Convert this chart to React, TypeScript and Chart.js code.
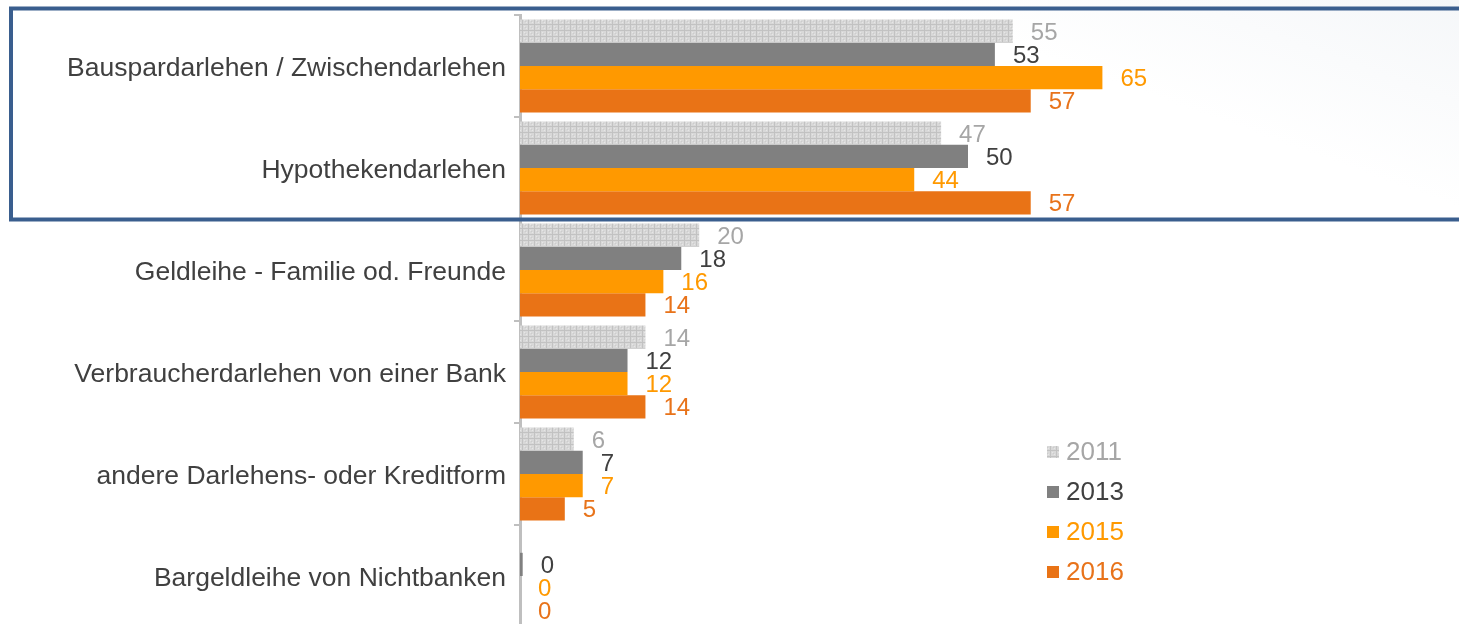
import React, { useEffect, useRef } from "react";
import { Chart, registerables } from "chart.js";

Chart.register(...registerables);

const categories = [
  "Bauspardarlehen / Zwischendarlehen",
  "Hypothekendarlehen",
  "Geldleihe - Familie od. Freunde",
  "Verbraucherdarlehen von einer Bank",
  "andere Darlehens- oder Kreditform",
  "Bargeldleihe von Nichtbanken",
];

const seriesYears = ["2011", "2013", "2015", "2016"];

const values2011: (number | null)[] = [55, 47, 20, 14, 6, null];
const values2013: (number | null)[] = [53, 50, 18, 12, 7, 0.3];
const values2015: (number | null)[] = [65, 44, 16, 12, 7, 0];
const values2016: (number | null)[] = [57, 57, 14, 14, 5, 0];

const barColors = ["pattern", "#808080", "#ff9900", "#e97316"];
const labelColors = ["#a6a6a6", "#404040", "#ff9900", "#e8731a"];

function makePattern(): CanvasPattern | string {
  const c = document.createElement("canvas");
  c.width = 6;
  c.height = 6;
  const g = c.getContext("2d");
  if (!g) return "#d6d6d6";
  g.fillStyle = "#d8d8d8";
  g.fillRect(0, 0, 6, 6);
  g.fillStyle = "#c2c2c2";
  g.fillRect(0, 0, 6, 1);
  g.fillRect(0, 0, 1, 6);
  g.fillStyle = "#e6e6e6";
  g.fillRect(2, 2, 1, 1);
  g.fillRect(4, 4, 1, 1);
  g.fillStyle = "#cccccc";
  g.fillRect(3, 3, 1, 1);
  return g.createPattern(c, "repeat") || "#d6d6d6";
}

const labelFont = "24px 'Liberation Sans', Arial, sans-serif";
const legendFont = "26px 'Liberation Sans', Arial, sans-serif";

const dataLabelPlugin = {
  id: "dataLabels",
  afterDatasetsDraw(chart: any) {
    const ctx = chart.ctx;
    ctx.save();
    ctx.font = labelFont;
    ctx.textAlign = "left";
    ctx.textBaseline = "middle";
    chart.data.datasets.forEach((ds: any, i: number) => {
      const meta = chart.getDatasetMeta(i);
      meta.data.forEach((el: any, j: number) => {
        const v = ds.data[j];
        if (v == null || !isFinite(el.x) || !isFinite(el.y)) return;
        ctx.fillStyle = labelColors[i];
        ctx.fillText(String(Math.round(v)), el.x + 18, el.y + 2);
      });
    });
    ctx.restore();
  },
};

const overlayPlugin = {
  id: "overlay",
  afterDraw(chart: any) {
    const ctx = chart.ctx;
    const yScale = chart.scales.y;
    const band = (yScale.bottom - yScale.top) / categories.length;
    // highlight box around the first two categories
    const top = yScale.getPixelForValue(0) - band / 2 - 6.5;
    const bottom = yScale.getPixelForValue(1) + band / 2 + 0.5;
    ctx.save();
    ctx.strokeStyle = "#3a5e8e";
    ctx.lineWidth = 4;
    ctx.strokeRect(11, top, chart.width + 20, bottom - top);
    ctx.restore();

    // legend
    ctx.save();
    ctx.font = legendFont;
    ctx.textAlign = "left";
    ctx.textBaseline = "middle";
    chart.data.datasets.forEach((ds: any, i: number) => {
      const y = 452 + i * 40;
      ctx.fillStyle = ds.backgroundColor;
      ctx.fillRect(1047, y - 6, 12, 12);
      ctx.fillStyle = labelColors[i];
      ctx.fillText(ds.label, 1066, y + 1);
    });
    ctx.restore();
  },
};

export default function App() {
  const canvasRef = useRef<HTMLCanvasElement | null>(null);

  useEffect(() => {
    const canvas = canvasRef.current;
    if (!canvas) return;
    const pattern = makePattern();
    const seriesValues = [values2011, values2013, values2015, values2016];
    const chart = new Chart(canvas, {
      type: "bar",
      data: {
        labels: categories,
        datasets: seriesYears.map((year, i) => ({
          label: year,
          data: seriesValues[i],
          backgroundColor: barColors[i] === "pattern" ? pattern : barColors[i],
          borderWidth: 0,
          categoryPercentage: 0.91,
          barPercentage: 1.0,
        })) as any,
      },
      options: {
        indexAxis: "y",
        responsive: false,
        animation: false,
        devicePixelRatio: 1,
        layout: { padding: { top: 15, bottom: 1, left: 0, right: 43 } },
        plugins: {
          legend: { display: false },
          tooltip: { enabled: false },
        },
        scales: {
          x: {
            display: false,
            min: 0,
            max: 100,
          },
          y: {
            grid: {
              display: true,
              drawOnChartArea: false,
              drawTicks: true,
              tickLength: 6,
              color: "#bfbfbf",
              lineWidth: 2,
              offset: true,
            },
            border: { display: true, color: "#bfbfbf", width: 3 },
            ticks: {
              color: "#404040",
              padding: 8,
              labelOffset: 2.5,
              font: { family: "'Liberation Sans', Arial, sans-serif", size: 26.5 },
            },
            afterFit: (scale: any) => {
              scale.width = 520;
              scale.paddingTop = 0;
              scale.paddingBottom = 0;
            },
          },
        },
      } as any,
      plugins: [dataLabelPlugin, overlayPlugin],
    });
    return () => chart.destroy();
  }, []);

  return (
    <div
      style={{
        position: "fixed",
        left: 0,
        top: 0,
        width: 1459,
        height: 624,
        overflow: "hidden",
        background: "linear-gradient(200deg, #f5f7f9 0%, #ffffff 18%)",
      }}
    >
      <canvas
        ref={canvasRef}
        width={1459}
        height={628}
        style={{ display: "block", width: 1459, height: 628 }}
      />
    </div>
  );
}
